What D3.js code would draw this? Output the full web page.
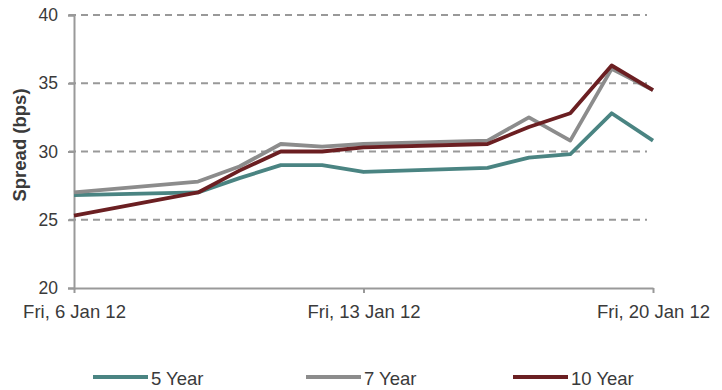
<!DOCTYPE html>
<html>
<head>
<meta charset="utf-8">
<script src="https://cdn.jsdelivr.net/npm/d3@7"></script>
<style>
  body { margin: 0; background: #fff; }
  text { font-family: "Liberation Sans", Arial, sans-serif; fill: #3a3a3a; }
</style>
</head>
<body>
<div id="chart"></div>
<script>
// data (business days, Jan 2012)
var dates = ["2012-01-06", "2012-01-09", "2012-01-10", "2012-01-11", "2012-01-12", "2012-01-13",
             "2012-01-16", "2012-01-17", "2012-01-18", "2012-01-19", "2012-01-20"];
var fiveYear  = [26.8, 27.0, 28.05, 29.0, 29.0, 28.5, 28.8, 29.55, 29.8, 32.8, 30.8];
var sevenYear = [27.0, 27.8, 28.9, 30.55, 30.35, 30.55, 30.8, 32.5, 30.8, 36.05, 34.5];
var tenYear   = [25.3, 27.0, 28.6, 30.0, 30.0, 30.3, 30.55, 31.8, 32.8, 36.3, 34.5];
var seriesNames = ["5 Year", "7 Year", "10 Year"];
var seriesColors = ["#4a8482", "#8c8c8c", "#6b1f22"];
var yTicks = [20, 25, 30, 35, 40];
var xTicks = ["2012-01-06", "2012-01-13", "2012-01-20"];

var w = 722, h = 390;
var parse = d3.utcParse("%Y-%m-%d");
var fmt = d3.utcFormat("%a, %-d %b %y");

var svg = d3.select("#chart").append("svg")
  .attr("width", w).attr("height", h);

var x = d3.scaleUtc()
  .domain([parse(dates[0]), parse(dates[dates.length - 1])])
  .range([74, 653]);
var y = d3.scaleLinear().domain([20, 40]).range([288, 15]);

// gridlines
svg.append("g").selectAll("line")
  .data(yTicks.filter(function(d) { return d > 20; }))
  .enter().append("line")
  .attr("x1", 69).attr("x2", 647)
  .attr("y1", function(d) { return y(d); })
  .attr("y2", function(d) { return y(d); })
  .attr("stroke", "#999")
  .attr("stroke-width", 2)
  .attr("stroke-dasharray", "7,5");

// y axis
var yAxis = svg.append("g")
  .attr("transform", "translate(74,0)")
  .call(d3.axisLeft(y).tickValues(yTicks).tickSize(6).tickPadding(10));
yAxis.select(".domain").attr("stroke", "#999").attr("stroke-width", 2);
yAxis.selectAll(".tick line").attr("stroke", "#999").attr("stroke-width", 2);
yAxis.selectAll("text").attr("font-size", 17.5).attr("fill", "#3a3a3a")
  .style("font-family", "'Liberation Sans', Arial, sans-serif");

// x axis
var xAxis = svg.append("g")
  .attr("transform", "translate(0,288)")
  .call(d3.axisBottom(x).tickValues(xTicks.map(parse)).tickFormat(fmt)
    .tickSizeInner(5).tickSizeOuter(0));
xAxis.select(".domain").attr("stroke", "#999").attr("stroke-width", 2);
xAxis.selectAll(".tick line").attr("stroke", "#999").attr("stroke-width", 2);
xAxis.selectAll("text").attr("font-size", 18.5).attr("fill", "#3a3a3a")
  .attr("y", 30).attr("dy", 0)
  .style("font-family", "'Liberation Sans', Arial, sans-serif");

// axis title
svg.append("text")
  .attr("transform", "translate(26,145) rotate(-90)")
  .attr("text-anchor", "middle")
  .attr("font-size", 18.5)
  .attr("font-weight", "bold")
  .style("font-family", "'Liberation Sans Narrow', 'Arial Narrow', sans-serif")
  .text("Spread (bps)");

// lines
var allSeries = [fiveYear, sevenYear, tenYear];
var line = d3.line()
  .x(function(d, i) { return x(parse(dates[i])); })
  .y(function(d) { return y(d); });

svg.append("g").selectAll("path")
  .data(allSeries)
  .enter().append("path")
  .attr("d", line)
  .attr("fill", "none")
  .attr("stroke", function(d, i) { return seriesColors[i]; })
  .attr("stroke-width", 3.8)
  .attr("stroke-linejoin", "round");

// legend
var legendX = [93, 306, 513];
var legend = svg.append("g").selectAll("g")
  .data(seriesNames)
  .enter().append("g")
  .attr("transform", function(d, i) { return "translate(" + legendX[i] + ",377)"; });
legend.append("line")
  .attr("x1", 0).attr("x2", 55)
  .attr("stroke", function(d, i) { return seriesColors[i]; })
  .attr("stroke-width", 4);
legend.append("text")
  .attr("x", 58).attr("y", 7.5)
  .attr("font-size", 18.5)
  .text(function(d) { return d; });
</script>
</body>
</html>
